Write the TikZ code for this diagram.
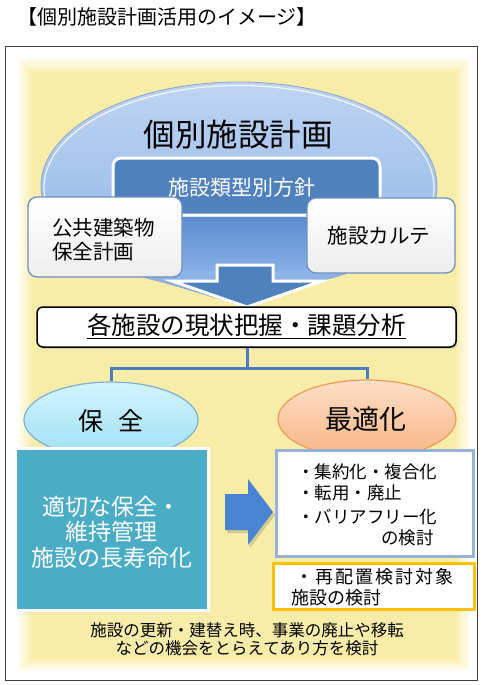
\documentclass[tikz,border=0pt]{standalone}
\usepackage{fontspec}
\setmainfont{Noto Sans CJK JP}
\usetikzlibrary{shapes.geometric,shadows}
\definecolor{ybg}{HTML}{F8EDA8}
\definecolor{dblue}{HTML}{4F81BD}
\definecolor{cblue}{HTML}{4A7CC0}
\definecolor{teal}{HTML}{4BACC6}
\definecolor{arrowblue}{HTML}{4A85D3}
\definecolor{boxblue}{HTML}{95B3D7}
\definecolor{gold}{HTML}{FFC000}
\definecolor{sidegray}{HTML}{6F8FBF}
\definecolor{elltop}{HTML}{C2D7F3}
\definecolor{ellbot}{HTML}{86AEE4}
\definecolor{ellrim}{HTML}{8AA6CC}
\definecolor{shafttop}{HTML}{5C8DD0}
\definecolor{shaftbot}{HTML}{86AEE6}
\definecolor{cyantop}{HTML}{D3F4FD}
\definecolor{cyanbot}{HTML}{9EDFF5}
\definecolor{cyanrim}{HTML}{7DB0D8}
\definecolor{orgtop}{HTML}{FDDFC6}
\definecolor{orgbot}{HTML}{F8B483}
\definecolor{orgrim}{HTML}{EE9A5A}
\newcommand\fsz[1]{\fontsize{#1}{#1}\selectfont}
\begin{document}
\begin{tikzpicture}[x=1pt,y=-1pt,
  txt/.style={inner sep=0pt, font=\fsz{#1}},
  conn/.style={draw=cblue, line width=3pt},
  sidebox/.style={draw=sidegray, line width=1.3pt, rounded corners=9pt, top color=white, bottom color=white!93!black, inner sep=0pt},
  softshadow/.style={drop shadow={opacity=0.25, shadow xshift=1.5pt, shadow yshift=-2pt}},
  whitebox/.style={fill=white, line width=3pt, inner sep=0pt}
]
\useasboundingbox (0,0) rectangle (484,685);
% frame
\draw[black!75, line width=0.8pt, fill=white] (5,46) rectangle (477,680);
% soft yellow background
\foreach \i [evaluate=\i as \p using {(\i+1)*12.5}] in {0,...,7}
  \fill[ybg!\p!white] (18+\i*2, 58+\i*2.2) rectangle (470-\i*2, 672-\i*2);
% title
\node[txt=20, anchor=west] (title) at (17,17) {【個別施設計画活用のイメージ】};
% big ellipse with arrow bottom
\path[top color=elltop, bottom color=ellbot, draw=ellrim, line width=0.8pt]
  (239,186) ++(112.6:198 and 104) arc[start angle=112.6, end angle=427.4, x radius=198, y radius=104] -- (247,307) -- cycle;
\draw[white, line width=1.2pt, opacity=0.8]
  (239,187.5) ++(150:195 and 102) arc[start angle=150, end angle=390, x radius=195, y radius=102];
% dark box
\node[fill=dblue, draw=white, line width=3pt, rounded corners=8pt, minimum width=267pt, minimum height=57pt, inner sep=0pt] (ruikei) at (246.5,186.5) {};
% shaft region
\fill[top color=shafttop, bottom color=shaftbot] (180,217) rectangle (310,270);
% block arrow
\filldraw[fill=dblue, draw=white, line width=3pt, line join=miter] (217,265) -- (273,265) -- (273,281) -- (322,281) -- (247,307) -- (172,281) -- (217,281) -- cycle;
% side boxes
\node[sidebox, minimum width=154pt, minimum height=80pt] (kokyo) at (105,237) {};
\node[sidebox, minimum width=148pt, minimum height=75pt] (karte) at (381,235.5) {};
% texts in top part
\node[txt=31.5] (planT) at (238,135) {個別施設計画};
\node[txt=21, text=white] (ruikeiT) at (242,188) {施設類型別方針};
\node[txt=20.5, anchor=west] (kokyoT1) at (52,228) {公共建築物};
\node[txt=20.5, anchor=west] (kokyoT2) at (52,252) {保全計画};
\node[txt=20.5] (karteT) at (379,236) {施設カルテ};
% analysis bar
\node[draw=black, fill=white, line width=1.5pt, rounded corners=6pt, minimum width=419pt, minimum height=40pt, inner sep=0pt, softshadow] (bar) at (246.5,327) {};
\node[txt=24.5] (barT) at (246.5,326) {\underline{各施設の現状把握・課題分析}};
% ellipses
\node[ellipse, inner sep=0pt, minimum width=174pt, minimum height=76pt, top color=cyantop, bottom color=cyanbot, draw=cyanrim, line width=1.2pt] (hozen) at (111,420) {};
\node[ellipse, inner sep=0pt, minimum width=178pt, minimum height=78pt, top color=orgtop, bottom color=orgbot, draw=orgrim, line width=1.2pt] (saiteki) at (367,419) {};
\node[txt=25] (hozenT) at (111,421) {保\hspace{0.6em}全};
\node[txt=27] (saitekiT) at (366,419) {最適化};
% connectors
\coordinate (jn) at (247,368);
\draw[conn] (bar.south -| jn) -- (jn);
\draw[conn] (hozen.north) -- (hozen.north |- jn) -- (saiteki.north |- jn) -- (saiteki.north);
% teal box
\node[whitebox, fill=teal, draw=white, minimum width=193pt, minimum height=162pt, softshadow] (tealbox) at (111.5,529) {};
\node[txt=23, text=white] (tealT1) at (111,507) {適切な保全・};
\node[txt=23, text=white] (tealT2) at (111,532) {維持管理};
\node[txt=23, text=white] (tealT3) at (112,558) {施設の長寿命化};
% right arrow
\fill[black, opacity=0.15] (227,497) -- (250,497) -- (250,482) -- (275,515) -- (250,548) -- (250,533) -- (227,533) -- cycle;
\fill[arrowblue] (225,494) -- (248,494) -- (248,479) -- (273,512) -- (248,545) -- (248,530) -- (225,530) -- cycle;
% right boxes
\node[whitebox, draw=boxblue, minimum width=197pt, minimum height=106pt] (optbox) at (374.5,503) {};
\node[txt=17.5, anchor=west] (opt1) at (297,472) {・集約化・複合化};
\node[txt=17.5, anchor=west] (opt2) at (297,493) {・転用・廃止};
\node[txt=17.5, anchor=west] (opt3) at (297,517) {・バリアフリー化};
\node[txt=17.5, anchor=east] (opt4) at (434,538) {の検討};
\node[whitebox, draw=gold, minimum width=201pt, minimum height=46pt] (reloc) at (373.5,586) {};
\node[txt=18, anchor=west] (reloc1) at (295,577) {・\kern2pt 再\kern2pt 配\kern2pt 置\kern2pt 検\kern2pt 討\kern2pt 対\kern2pt 象};
\node[txt=18, anchor=west] (reloc2) at (291,598) {施設の検討};
% bottom text
\node[txt=16.5] (foot1) at (247,630) {施設の更新・建替え時、事業の廃止や移転};
\node[txt=16.5] (foot2) at (247,648) {などの機会をとらえてあり方を検討};
\end{tikzpicture}
\end{document}
